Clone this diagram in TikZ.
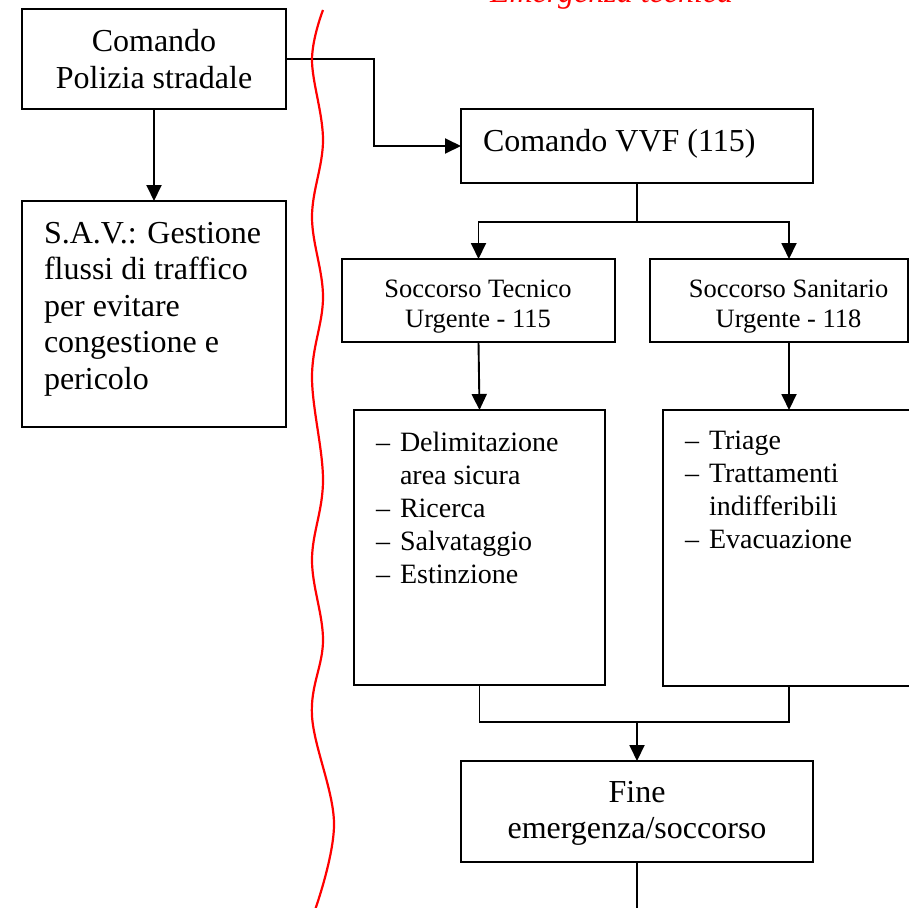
\documentclass[tikz,border=0pt]{standalone}
\usepackage{fontspec}
\setmainfont{Liberation Serif}
\usetikzlibrary{arrows.meta}

% type sizes used in the chart
\newcommand\bigtype{\fontsize{32}{36.6}\selectfont}
\newcommand\midtype{\fontsize{26.5}{30}\selectfont}
\newcommand\listtype{\fontsize{28}{33}\selectfont}

\tikzset{
  box/.style={draw=black, line width=1.9pt, inner sep=0pt, outer sep=0pt, fill=none},
  txt/.style={inner sep=0pt, outer sep=0pt, anchor=base},
  ltxt/.style={inner sep=0pt, outer sep=0pt, anchor=base west},
  link/.style={draw=black, line width=1.9pt},
  arrowlink/.style={link, -{Triangle[length=16pt,width=15pt]}},
  border/.style={draw=red, line width=2.2pt}
}

\begin{document}
\begin{tikzpicture}[x=1pt, y=-1pt]
  \useasboundingbox (0,0) rectangle (909,907);
  \clip (0,0) rectangle (909,907);
  \fill[white] (0,0) rectangle (909,907);

  % heading of the right-hand area
  \node[ltxt, text=red] (title) at (490,2.5) {\bigtype\itshape Emergenza tecnica};

  % boxes
  \node[box, minimum width=264pt, minimum height=100pt] (pol)  at (154,59) {};
  \node[box, minimum width=264pt, minimum height=226pt] (sav)  at (154,314) {};
  \node[box, minimum width=352pt, minimum height=74pt]  (vvf)  at (637,146) {};
  \node[box, minimum width=273pt, minimum height=83pt]  (st)   at (478.5,300.5) {};
  \node[box, minimum width=258pt, minimum height=83pt]  (ss)   at (779,300.5) {};
  \node[box, minimum width=251pt, minimum height=275pt] (sl1)  at (479.5,547.5) {};
  \node[box, minimum width=252pt, minimum height=276pt] (sl2)  at (789,548) {};
  \node[box, minimum width=352pt, minimum height=101pt] (fine) at (637,811.5) {};

  % box texts
  \node[txt] (polt) at (154,52) {\bigtype\begin{tabular}[t]{@{}c@{}}Comando\\Polizia stradale\end{tabular}};
  \node[ltxt] (savt) at (44,243) {\bigtype\begin{tabular}[t]{@{}l@{}}S.A.V.: Gestione\\flussi di traffico\\per evitare\\congestione e\\pericolo\end{tabular}};
  \node[ltxt] (vvft) at (483,151) {\bigtype Comando VVF (115)};
  \node[txt] (stt) at (478,297) {\midtype\begin{tabular}[t]{@{}c@{}}Soccorso Tecnico\\Urgente - 115\end{tabular}};
  \node[txt] (sst) at (788.5,297) {\midtype\begin{tabular}[t]{@{}c@{}}Soccorso Sanitario\\Urgente - 118\end{tabular}};
  \node[ltxt] (sl1t) at (376,451) {\listtype\begin{tabular}[t]{@{}l@{\hspace{10pt}}l@{}}
    --& Delimitazione\\ & area sicura\\ --& Ricerca\\ --& Salvataggio\\ --& Estinzione\end{tabular}};
  \node[ltxt] (sl2t) at (685,449) {\listtype\begin{tabular}[t]{@{}l@{\hspace{10pt}}l@{}}
    --& Triage\\ --& Trattamenti\\ & indifferibili\\ --& Evacuazione\end{tabular}};
  \node[txt] (finet) at (637,802) {\bigtype\begin{tabular}[t]{@{}c@{}}Fine\\emergenza/soccorso\end{tabular}};

  % junction points of the branching connectors
  \coordinate (jt) at (637,222);
  \coordinate (jb) at (637,722);
  \coordinate (fend) at (637,915);

  % connectors
  \draw[arrowlink] (pol.south) -- (sav.north);
  \draw[arrowlink] (pol.east) -- ++(88,0) |- (vvf.west);
  \draw[link] (vvf.south) -- (jt);
  \draw[arrowlink] (jt) -| (st.north);
  \draw[arrowlink] (jt) -| ([xshift=10pt]ss.north);
  \draw[arrowlink] (st.south) -- (sl1.north);
  \draw[arrowlink] ([xshift=10pt]ss.south) -- (sl2.north);
  \draw[link] (sl1.south) |- (jb) -| (sl2.south);
  \draw[arrowlink] (jb) -- (fine.north);
  \draw[link] (fine.south) -- (fend);

  % red wavy boundary line
  \draw[border] plot[smooth, tension=0.6] coordinates {
    (323,10) (312,60) (323,140) (312,217) (323,297) (312,377)
    (323,480) (312,560) (323,640) (312,716) (334,823) (315,910)};
\end{tikzpicture}
\end{document}
